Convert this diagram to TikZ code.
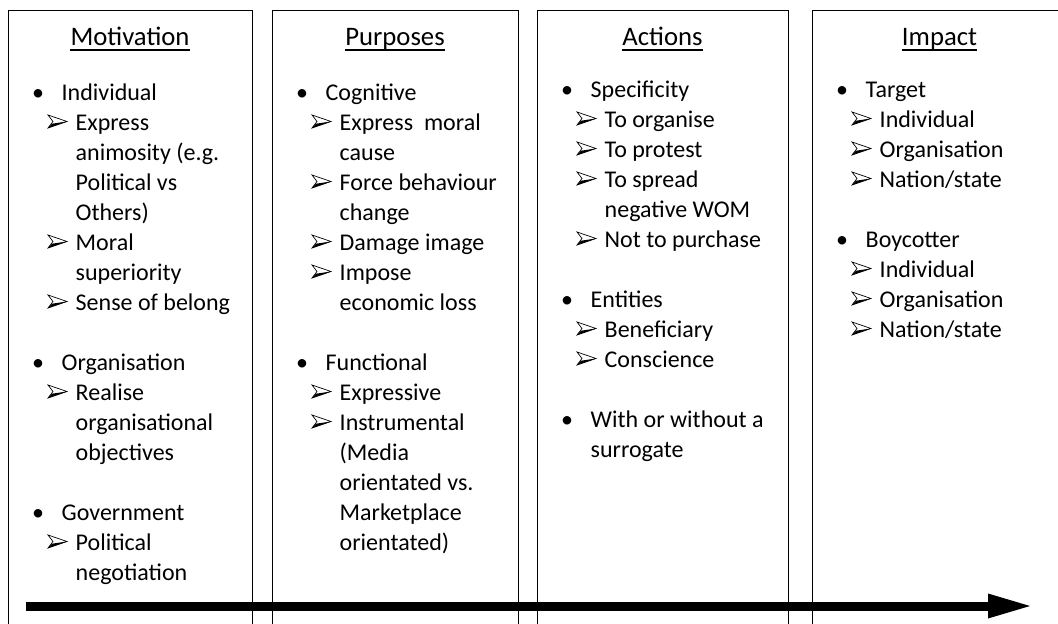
\documentclass[tikz,border=0pt]{standalone}
\usepackage{fontspec}
\setmainfont{Carlito}
\usetikzlibrary{arrows.meta}

\newcommand\bodyfont{\fontsize{24}{30}\selectfont}
\newcommand\headfont{\fontsize{26.7}{32}\selectfont}

\tikzset{
  panel/.style={draw=black, line width=1pt},
  body/.style={font=\bodyfont, inner sep=0pt, anchor=base west},
  headtxt/.style={font=\headfont, inner sep=0pt, anchor=base},
  bulmark/.style={font=\bodyfont, inner sep=0pt, anchor=base},
  uline/.style={line width=1.5pt},
  flow/.style={line width=9pt, -{Triangle[length=42pt,width=25pt,line width=0pt]}},
  % three-d arrowhead used as the sub-item marker
  tipmark/.pic={
    \draw[line width=0.7pt, line join=miter] (0,-6.5) -- (19,0) -- (0,6.5) -- (5,0) -- cycle;
    \fill (0,6.5) -- (19,0) -- (4,2.2) -- cycle;
  }
}

% One column of list lines: #1 name prefix, #2 panel left edge,
% #3 first baseline, #4 entries line/kind/text
% kind: b = bullet item, d = its continuation,
%       a = arrow sub-item, c = its continuation
\newcommand\listitems[4]{%
  \foreach \k/\kind/\txt [count=\n] in {#4} {
    \pgfmathsetmacro\yy{#3+30*\k}
    \if\kind b
      \node[bulmark] (#1-\n-m) at (#2+30,\yy) {\textbullet};
      \node[body] (#1-\n) at (#2+53.5,\yy) {\txt};
    \fi
    \if\kind d
      \node[body] (#1-\n) at (#2+53.5,\yy) {\txt};
    \fi
    \if\kind a
      \pic (#1-\n-m) at (#2+40,\yy-8.5) {tipmark};
      \node[body] (#1-\n) at (#2+67.5,\yy) {\txt};
    \fi
    \if\kind c
      \node[body] (#1-\n) at (#2+67.5,\yy) {\txt};
    \fi
  }%
}

\begin{document}
\begin{tikzpicture}[x=1pt, y=-1pt]
\useasboundingbox (0,0) rectangle (1058,624);
\fill[white] (0,0) rectangle (1058,624);
\clip (0,0) rectangle (1058,624);

% panels
\draw[panel] (8,10.5) rectangle (252,660);
\draw[panel] (272,10.5) rectangle (518,660);
\draw[panel] (537,10.5) rectangle (788,660);
\draw[panel] (812,10.5) rectangle (1067,660);

% headings
\node[headtxt] (h1) at (130,45) {Motivation};
\node[headtxt] (h2) at (395,45) {Purposes};
\node[headtxt] (h3) at (662.5,45) {Actions};
\node[headtxt] (h4) at (939.5,45) {Impact};
\foreach \h in {h1,h2,h3,h4}
  \draw[uline] ([yshift=-5pt]\h.base west) -- ([yshift=-5pt]\h.base east);

% Motivation
\listitems{mo}{8}{100}{0/b/Individual,1/a/Express,2/c/animosity (e.g.,3/c/Political vs,4/c/Others),5/a/Moral,6/c/superiority,7/a/Sense of belong,9/b/Organisation,10/a/Realise,11/c/organisational,12/c/objectives,14/b/Government,15/a/Political,16/c/negotiation}

% Purposes
\listitems{pu}{272}{100}{0/b/Cognitive,1/a/{Express\ \ moral},2/c/cause,3/a/Force behaviour,4/c/change,5/a/Damage image,6/a/Impose,7/c/economic loss,9/b/Functional,10/a/Expressive,11/a/Instrumental,12/c/(Media,13/c/orientated vs.,14/c/Marketplace,15/c/orientated)}

% Actions
\listitems{ac}{537}{97}{0/b/Specificity,1/a/To organise,2/a/To protest,3/a/To spread,4/c/negative WOM,5/a/Not to purchase,7/b/Entities,8/a/Beneficiary,9/a/Conscience,11/b/With or without a,12/d/surrogate}

% Impact
\listitems{im}{812}{97}{0/b/Target,1/a/Individual,2/a/Organisation,3/a/{Nation/state},5/b/Boycotter,6/a/Individual,7/a/Organisation,8/a/{Nation/state}}

% time line arrow
\coordinate (tl-start) at (26,606);
\coordinate (tl-end) at (1030,606);
\draw[flow] (tl-start) -- (tl-end);
\end{tikzpicture}
\end{document}
